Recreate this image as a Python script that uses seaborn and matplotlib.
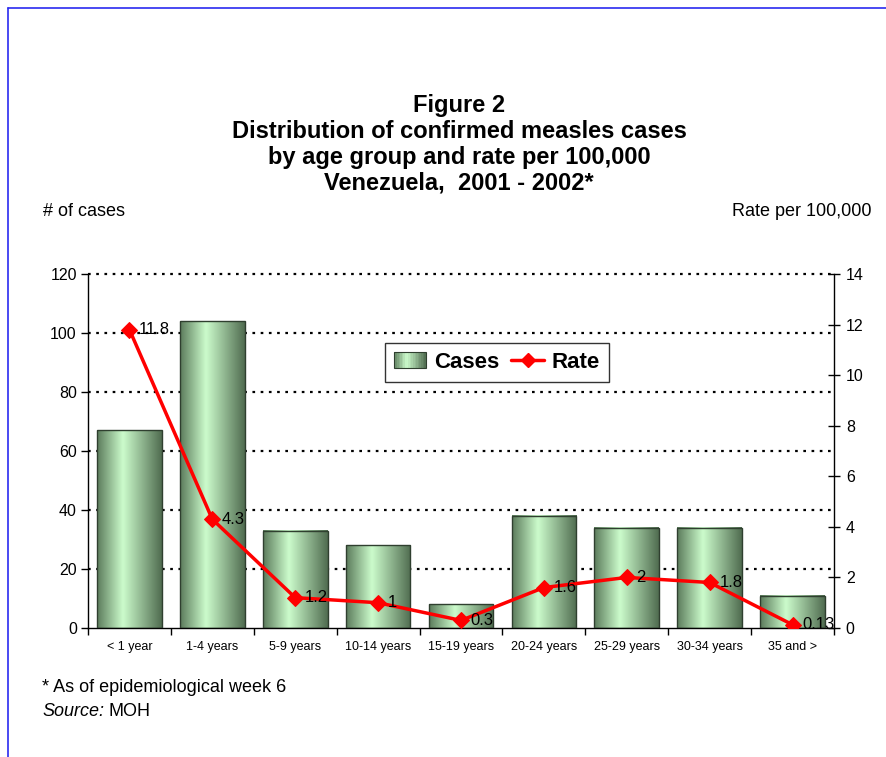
import numpy as np
import seaborn as sns
import matplotlib.pyplot as plt
import matplotlib.colors as mcolors
from matplotlib.lines import Line2D
from matplotlib.patches import Rectangle
from matplotlib.legend_handler import HandlerBase

# data
categories = ["< 1 year", "1-4 years", "5-9 years", "10-14 years", "15-19 years",
              "20-24 years", "25-29 years", "30-34 years", "35 and >"]
cases = [67, 104, 33, 28, 8, 38, 34, 34, 11]
rates = [11.8, 4.3, 1.2, 1, 0.3, 1.6, 2, 1.8, 0.13]
rate_labels = ["11.8", "4.3", "1.2", "1", "0.3", "1.6", "2", "1.8", "0.13"]
cases_ticks = [0, 20, 40, 60, 80, 100, 120]
rate_ticks = [0, 2, 4, 6, 8, 10, 12, 14]

sns.set_theme(style="white")
plt.rcParams['font.family'] = ['Liberation Sans', 'DejaVu Sans']
plt.rcParams.update({"text.color": "black", "axes.labelcolor": "black",
                     "xtick.color": "black", "ytick.color": "black"})

# green "cylinder" gradient: dark edges, light centre
green_cmap = mcolors.LinearSegmentedColormap.from_list(
    "cyl", [(0.0, "#5b7b5b"), (0.4, "#ccfccc"), (1.0, "#506c50")])
grad = np.linspace(0, 1, 256).reshape(1, -1)

fig = plt.figure(figsize=(8.86, 7.57), dpi=100)
ax = fig.add_axes([0.0993, 0.1704, 0.842, 0.4677])

sns.barplot(x=categories, y=cases, ax=ax, width=0.78, color="#a0d0a0",
            edgecolor="#2f3f2f", linewidth=1.0, zorder=3)
for p in ax.patches:
    x0, w, h = p.get_x(), p.get_width(), p.get_height()
    p.set_facecolor("none")
    ax.imshow(grad, cmap=green_cmap, aspect="auto", extent=[x0, x0 + w, 0, h],
              zorder=2.5, interpolation="bicubic")

ax.set_xlim(-0.5, len(categories) - 0.5)
ax.set_ylim(0, 120)
ax.set_yticks(cases_ticks)
ax.tick_params(axis="y", labelsize=11.5, length=5, width=1, direction="out",
               left=True, pad=3)
ax.set_xticks(np.arange(len(categories)))
ax.set_xticklabels(categories, fontsize=9)
ax.set_xticks(np.arange(len(categories) + 1) - 0.5, minor=True)
ax.tick_params(axis="x", which="major", length=0, pad=9)
ax.tick_params(axis="x", which="minor", length=5, width=1, bottom=True, direction="out")
for v in cases_ticks[1:]:
    ax.axhline(v, color="black", linestyle=(0, (1.2, 2.5)), linewidth=1.6, zorder=1,
               clip_on=False)
for s in ["left", "bottom"]:
    ax.spines[s].set_color("black")
    ax.spines[s].set_linewidth(1)
ax.spines["right"].set_visible(False)
ax.spines["top"].set_visible(False)
ax.set_xlabel("")
ax.set_ylabel("")

ax2 = ax.twinx()
sns.lineplot(x=np.arange(len(categories)), y=rates, ax=ax2, color="#ff0000",
             marker="D", markersize=8, markeredgecolor="#ff0000", linewidth=2.5,
             zorder=5)
ax2.set_ylim(0, 14)
ax2.set_yticks(rate_ticks)
ax2.tick_params(axis="y", labelsize=11.5, length=9, width=1, direction="inout",
                right=True, pad=4)
ax2.spines["right"].set_color("black")
ax2.spines["right"].set_linewidth(1)
for s in ["left", "top", "bottom"]:
    ax2.spines[s].set_visible(False)
ax2.grid(False)
ax2.set_ylabel("")
for i, (r, lab) in enumerate(zip(rates, rate_labels)):
    ax2.annotate(lab, (i, r), xytext=(7, 0), textcoords="offset points",
                 ha="left", va="center", fontsize=12, color="black", zorder=6)


class GradientHandler(HandlerBase):
    def create_artists(self, legend, orig_handle, xdescent, ydescent, width,
                       height, fontsize, trans):
        n = 20
        arts = []
        for k in range(n):
            c = green_cmap((k + 0.5) / n)
            arts.append(Rectangle((-xdescent + k * width / n, -ydescent), width / n,
                                  height, facecolor=c, edgecolor="none",
                                  transform=trans))
        arts.append(Rectangle((-xdescent, -ydescent), width, height,
                              facecolor="none", edgecolor="#2f3f2f", lw=0.8,
                              transform=trans))
        return arts


bar_handle = Rectangle((0, 0), 1, 1)
line_handle = Line2D([], [], color="#ff0000", marker="D", markersize=7, linewidth=2.5)
leg = ax2.legend([bar_handle, line_handle], ["Cases", "Rate"],
                 handler_map={Rectangle: GradientHandler()},
                 loc="center", bbox_to_anchor=(0.548, 0.751), ncol=2,
                 prop={"weight": "bold", "size": 16}, frameon=True, fancybox=False,
                 handlelength=1.45, handleheight=0.7, columnspacing=0.55,
                 handletextpad=0.36, borderpad=0.4, borderaxespad=0)
leg.get_frame().set_edgecolor("black")
leg.get_frame().set_linewidth(1)
leg.set_zorder(10)

title = "Figure 2\nDistribution of confirmed measles cases\nby age group and rate per 100,000\nVenezuela,  2001 - 2002*"
fig.text(0.518, 1 - 94 / 757, title, ha="center", va="top", fontsize=17,
         fontweight="bold", linespacing=1.16)
fig.text(43 / 886, 1 - 211 / 757, "# of cases", ha="left", va="center", fontsize=13)
fig.text(872 / 886, 1 - 211 / 757, "Rate per 100,000", ha="right", va="center",
         fontsize=13)
fig.text(42 / 886, 1 - 688 / 757, "* As of epidemiological week 6", ha="left",
         va="center", fontsize=13)
src = fig.text(42 / 886, 1 - 712 / 757, "Source:", ha="left", va="center",
               fontsize=13, style="italic")
fig.add_artist(plt.Annotation("MOH", xy=(1, 0.5), xycoords=src, xytext=(3, 0),
                              textcoords="offset points", ha="left", va="center",
                              fontsize=13))

# blue page frame
fig.add_artist(Line2D([8 / 886, 1], [1 - 8 / 757, 1 - 8 / 757], color="#2a2af0",
                      linewidth=1.2, transform=fig.transFigure))
fig.add_artist(Line2D([8 / 886, 8 / 886], [0, 1 - 8 / 757], color="#2a2af0",
                      linewidth=1.2, transform=fig.transFigure))

fig.savefig("out.png", dpi=100)
